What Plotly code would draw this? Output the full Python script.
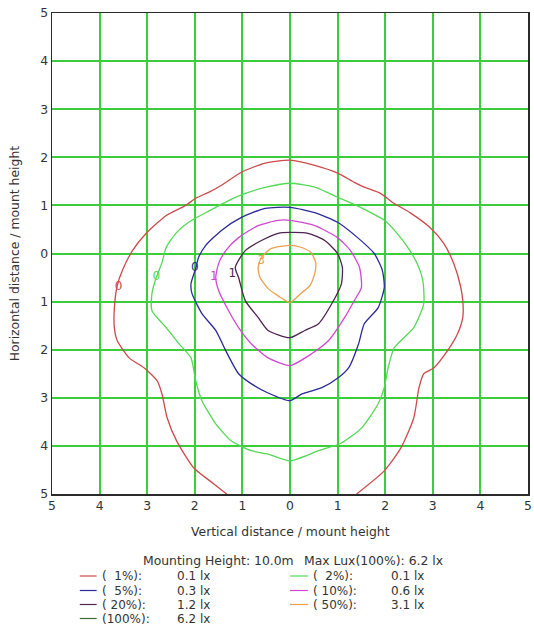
import plotly.graph_objects as go

# ---------------- data (axis units = distance / mount height) ----------------
tick_vals = [-5, -4, -3, -2, -1, 0, 1, 2, 3, 4, 5]
tick_text = ["5", "4", "3", "2", "1", "0", "1", "2", "3", "4", "5"]

red_x = [-1.33, -1.60, -2.02, -2.38, -2.58, -2.69, -2.79, -3.06, -3.38, -3.63, -3.69, -3.69, -3.63,
         -3.52, -3.31, -3.02, -2.60, -2.19, -1.98, -1.71, -1.44, -1.02, -0.52, 0.00, 0.52, 1.00,
         1.35, 1.56, 1.90, 2.19, 2.52, 2.94, 3.23, 3.44, 3.58, 3.63, 3.63, 3.52, 3.31, 3.02, 2.81,
         2.71, 2.60, 2.33, 1.98, 1.40]
red_y = [-5.00, -4.79, -4.46, -3.90, -3.42, -2.92, -2.65, -2.38, -2.17, -1.81, -1.54, -1.13, -0.67,
         -0.35, 0.06, 0.42, 0.79, 1.00, 1.15, 1.27, 1.42, 1.69, 1.88, 1.94, 1.83, 1.67,
         1.48, 1.38, 1.25, 1.04, 0.85, 0.54, 0.21, -0.21, -0.67, -0.98, -1.33, -1.67, -2.02, -2.38, -2.50,
         -2.79, -3.42, -4.04, -4.52, -5.00]

green_x = [0.00, 0.52, 1.00, 1.48, 1.98, 2.25, 2.52, 2.69, 2.79, 2.81, 2.60, 2.19, 2.06, 1.98, 1.85,
           1.50, 1.08, 0.60, 0.00, -0.46, -0.81, -1.23, -1.56, -1.85, -1.98, -2.08, -2.33, -2.60,
           -2.90, -2.90, -2.81, -2.69, -2.60, -2.38, -2.13, -1.71, -1.29, -0.94, -0.50, 0.00]
green_y = [1.46, 1.38, 1.17, 0.96, 0.69, 0.42, 0.06, -0.25, -0.56, -1.04, -1.54, -1.96, -2.38, -2.79, -3.13,
           -3.63, -3.94, -4.10, -4.31, -4.17, -4.10, -3.90, -3.54, -3.06, -2.65, -2.17, -1.88, -1.54,
           -1.19, -0.83, -0.50, -0.19, 0.13, 0.44, 0.65, 0.88, 1.10, 1.25, 1.38, 1.46]

blue_x = [0.00, 0.52, 1.00, 1.42, 1.77, 1.94, 1.98, 1.85, 1.56, 1.44, 1.23, 1.02, 0.67, 0.25, 0.00,
          -0.46, -0.81, -1.08, -1.35, -1.56, -1.85, -2.06, -2.08, -1.98, -1.92, -1.77, -1.44, -1.02,
          -0.52, 0.00]
blue_y = [0.96, 0.85, 0.65, 0.33, 0.00, -0.35, -0.71, -1.13, -1.46, -1.88, -2.38, -2.58, -2.79, -2.92, -3.06,
          -2.90, -2.71, -2.50, -2.02, -1.60, -1.25, -0.83, -0.63, -0.31, -0.08, 0.17, 0.48, 0.75,
          0.94, 0.96]

magenta_x = [0.00, 0.52, 1.00, 1.27, 1.46, 1.50, 1.35, 1.15, 0.81, 0.46, 0.00, -0.46, -0.81, -1.08,
             -1.29, -1.50, -1.56, -1.50, -1.35, -1.08, -0.67, -0.25, 0.00]
magenta_y = [0.69, 0.58, 0.33, 0.06, -0.29, -0.71, -0.98, -1.33, -1.81, -2.08, -2.33, -2.17, -1.88, -1.54,
             -1.19, -0.77, -0.50, -0.21, 0.06, 0.33, 0.58, 0.69, 0.69]

purple_x = [0.00, 0.38, 0.73, 1.00, 1.10, 1.08, 0.88, 0.60, 0.31, 0.00, -0.46, -0.67, -0.94, -1.08,
            -1.15, -0.94, -0.60, -0.25, 0.00]
purple_y = [0.44, 0.42, 0.27, 0.00, -0.29, -0.63, -1.04, -1.46, -1.60, -1.75, -1.60, -1.33, -0.98, -0.50,
            -0.29, 0.06, 0.27, 0.42, 0.44]

orange_x = [0.00, 0.23, 0.44, 0.54, 0.52, 0.42, 0.23, 0.00, -0.25, -0.46, -0.63, -0.67, -0.60, -0.40, 0.00]
orange_y = [0.17, 0.13, 0.02, -0.19, -0.42, -0.67, -0.83, -1.02, -0.88, -0.73, -0.50, -0.29, -0.08, 0.10, 0.17]

# contour labels
label_text = ["0", "0", "0", "1", "1", "3"]
label_x = [-3.60, -2.81, -2.00, -1.60, -1.21, -0.60]
label_y = [-0.69, -0.48, -0.31, -0.48, -0.42, -0.15]

# legend
legend_title_1 = "Mounting Height: 10.0m"
legend_title_2 = "Max Lux(100%): 6.2 lx"
legend_left_pct = ["(\u00a0\u00a01%):", "(\u00a0\u00a05%):", "(\u00a020%):", "(100%):"]
legend_left_val = ["0.1 lx", "0.3 lx", "1.2 lx", "6.2 lx"]
legend_right_pct = ["(\u00a0\u00a02%):", "(\u00a010%):", "(\u00a050%):"]
legend_right_val = ["0.1 lx", "0.6 lx", "3.1 lx"]

# ---------------- styles ----------------
C_RED = "#cc4a4a"
C_GREEN = "#55d855"
C_BLUE = "#2a2a9a"
C_MAG = "#d048d0"
C_PURP = "#4e2450"
C_ORANGE = "#eda050"
C_DKGREEN = "#3a6a3a"
GRID = "#3ccc3c"
TXT = "#333333"
FONT = "DejaVu Sans"
FS = 12.4
FS_LEG = 12

series = [
    (red_x, red_y, C_RED),
    (green_x, green_y, C_GREEN),
    (blue_x, blue_y, C_BLUE),
    (magenta_x, magenta_y, C_MAG),
    (purple_x, purple_y, C_PURP),
    (orange_x, orange_y, C_ORANGE),
]
label_colors = [C_RED, C_GREEN, C_BLUE, C_MAG, C_PURP, C_ORANGE]

fig = go.Figure()
for xs, ys, col in series:
    fig.add_trace(go.Scatter(x=xs, y=ys, mode="lines",
                             line=dict(color=col, width=1.3, shape="spline", smoothing=0.6),
                             showlegend=False, hoverinfo="skip"))

fig.add_trace(go.Scatter(x=label_x, y=label_y, mode="text", text=label_text,
                         textfont=dict(family=FONT, size=12, color=label_colors),
                         showlegend=False, hoverinfo="skip"))

W, H = 534, 632
L, R, T, B = 52, 532, 13, 494


def px(xp):
    return (xp - L) / (R - L)


def py(yp):
    return (B - yp) / (B - T)


ann = []
shapes = []
ann.append(dict(x=px(292), y=py(531), xref="paper", yref="paper", text="Vertical distance / mount height",
                showarrow=False, font=dict(family=FONT, size=FS, color=TXT), xanchor="center", yanchor="middle"))
ann.append(dict(x=px(14), y=py(253), xref="paper", yref="paper", text="Horizontal distance / mount height",
                showarrow=False, textangle=-90, font=dict(family=FONT, size=FS, color=TXT),
                xanchor="center", yanchor="middle"))
ann.append(dict(x=px(298), y=py(560), xref="paper", yref="paper", text=legend_title_1,
                showarrow=False, font=dict(family=FONT, size=FS, color=TXT), xanchor="right", yanchor="middle"))
ann.append(dict(x=px(304), y=py(560), xref="paper", yref="paper", text=legend_title_2,
                showarrow=False, font=dict(family=FONT, size=FS, color=TXT), xanchor="left", yanchor="middle"))

row_y = [576, 590.5, 604.5, 618.5]
left_cols = [C_RED, C_BLUE, C_PURP, C_DKGREEN]
right_cols = [C_GREEN, C_MAG, C_ORANGE]
for i, (p, v) in enumerate(zip(legend_left_pct, legend_left_val)):
    yy = row_y[i]
    shapes.append(dict(type="line", xref="paper", yref="paper", x0=px(80), x1=px(97), y0=py(yy), y1=py(yy),
                       line=dict(color=left_cols[i], width=1.2)))
    ann.append(dict(x=px(100), y=py(yy), xref="paper", yref="paper", text=p, showarrow=False,
                    font=dict(family=FONT, size=FS_LEG, color=TXT), xanchor="left", yanchor="middle"))
    ann.append(dict(x=px(176), y=py(yy), xref="paper", yref="paper", text=v, showarrow=False,
                    font=dict(family=FONT, size=FS_LEG, color=TXT), xanchor="left", yanchor="middle"))
for i, (p, v) in enumerate(zip(legend_right_pct, legend_right_val)):
    yy = row_y[i]
    shapes.append(dict(type="line", xref="paper", yref="paper", x0=px(292), x1=px(310), y0=py(yy), y1=py(yy),
                       line=dict(color=right_cols[i], width=1.2)))
    ann.append(dict(x=px(313), y=py(yy), xref="paper", yref="paper", text=p, showarrow=False,
                    font=dict(family=FONT, size=FS_LEG, color=TXT), xanchor="left", yanchor="middle"))
    ann.append(dict(x=px(392), y=py(yy), xref="paper", yref="paper", text=v, showarrow=False,
                    font=dict(family=FONT, size=FS_LEG, color=TXT), xanchor="left", yanchor="middle"))

axis_common = dict(range=[-5, 5], tickvals=tick_vals, ticktext=tick_text, showgrid=True, gridcolor=GRID,
                   gridwidth=2, zeroline=False, showline=True, mirror=True, linecolor="#2a2a2a", linewidth=1.5,
                   ticks="", tickfont=dict(family=FONT, size=FS, color=TXT), fixedrange=True)

fig.update_layout(
    width=W, height=H,
    margin=dict(l=L, r=W - R, t=T, b=H - B, pad=0),
    paper_bgcolor="white", plot_bgcolor="white",
    xaxis=dict(**axis_common),
    yaxis=dict(**axis_common),
    annotations=ann,
    shapes=shapes,
    showlegend=False,
    hovermode=False,
)

fig.write_html("out.html", config={"displayModeBar": False, "staticPlot": True},
               post_script="document.body.style.margin='0';document.body.style.overflow='hidden';")
